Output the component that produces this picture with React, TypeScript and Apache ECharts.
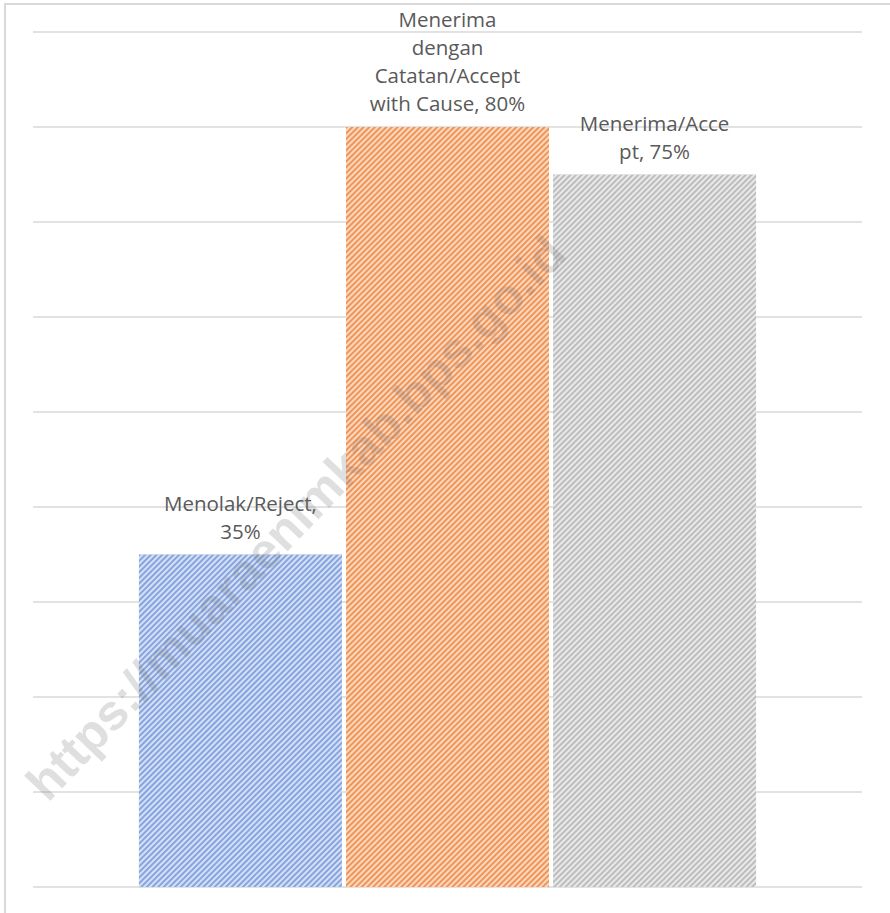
import React, { useEffect, useRef } from "react";
import * as echarts from "echarts";

const categories = [""];
const seriesNames = ["Menolak/Reject", "Menerima dengan Catatan/Accept with Cause", "Menerima/Accept"];
const values = [35, 80, 75];
const labelLines = [
  ["Menolak/Reject,", "35%"],
  ["Menerima", "dengan", "Catatan/Accept", "with Cause, 80%"],
  ["Menerima/Acce", "pt, 75%"],
];
const baseColors = ["#86a4de", "#f29456", "#bdbdbd"];
const stripeColors = ["rgba(232,239,251,0.8)", "rgba(253,234,220,0.8)", "rgba(244,244,244,0.8)"];
const watermark = "https://muaraenimkab.bps.go.id";

export default function App() {
  const ref = useRef<HTMLDivElement>(null);
  useEffect(() => {
    if (!ref.current) return;
    const chart = echarts.init(ref.current, undefined, { renderer: "svg" });
    const series = values.map((v, i) => ({
      name: seriesNames[i],
      type: "bar",
      data: [v],
      barWidth: 203,
      barGap: "2%",
      itemStyle: {
        color: baseColors[i],
        decal: {
          symbol: "rect",
          symbolSize: 1,
          color: stripeColors[i],
          dashArrayX: [[1, 0]],
          dashArrayY: [2, 2],
          rotation: -Math.PI / 4,
        },
      },
      label: {
        show: true,
        position: "top",
        distance: 10,
        formatter: () => labelLines[i].join("\n"),
        color: "#595959",
        fontSize: 20.5,
        lineHeight: 28,
        fontFamily: "'Open Sans', sans-serif",
        align: "center",
      },
    }));
    chart.setOption({
      animation: false,
      aria: { enabled: true, decal: { show: true } },
      backgroundColor: "#ffffff",
      grid: { left: 33, right: 28, top: 32, bottom: 26, containLabel: false },
      xAxis: {
        type: "category",
        data: categories,
        axisLine: { show: false },
        axisTick: { show: false },
        axisLabel: { show: false },
      },
      yAxis: {
        type: "value",
        min: 0,
        max: 90,
        interval: 10,
        axisLabel: { show: false },
        axisLine: { show: false },
        axisTick: { show: false },
        splitLine: { lineStyle: { color: "#d9d9d9", width: 1.5 } },
      },
      graphic: [
        {
          type: "rect",
          shape: { x: 5, y: 4, width: 920, height: 940 },
          style: { fill: "none", stroke: "#d9d9d9", lineWidth: 2 },
          silent: true,
        },
        {
          type: "text",
          x: 296,
          y: 518,
          rotation: 0.81,
          z: 100,
          style: {
            text: watermark,
            fill: "rgba(110,110,110,0.22)",
            font: "bold 50px 'Liberation Sans', Arial, sans-serif",
            align: "center",
            verticalAlign: "middle",
          },
          silent: true,
        },
      ],
      series,
    });
    return () => chart.dispose();
  }, []);
  return (
    <div
      ref={ref}
      style={{ position: "absolute", left: 0, top: 0, width: 890, height: 913 }}
    />
  );
}
